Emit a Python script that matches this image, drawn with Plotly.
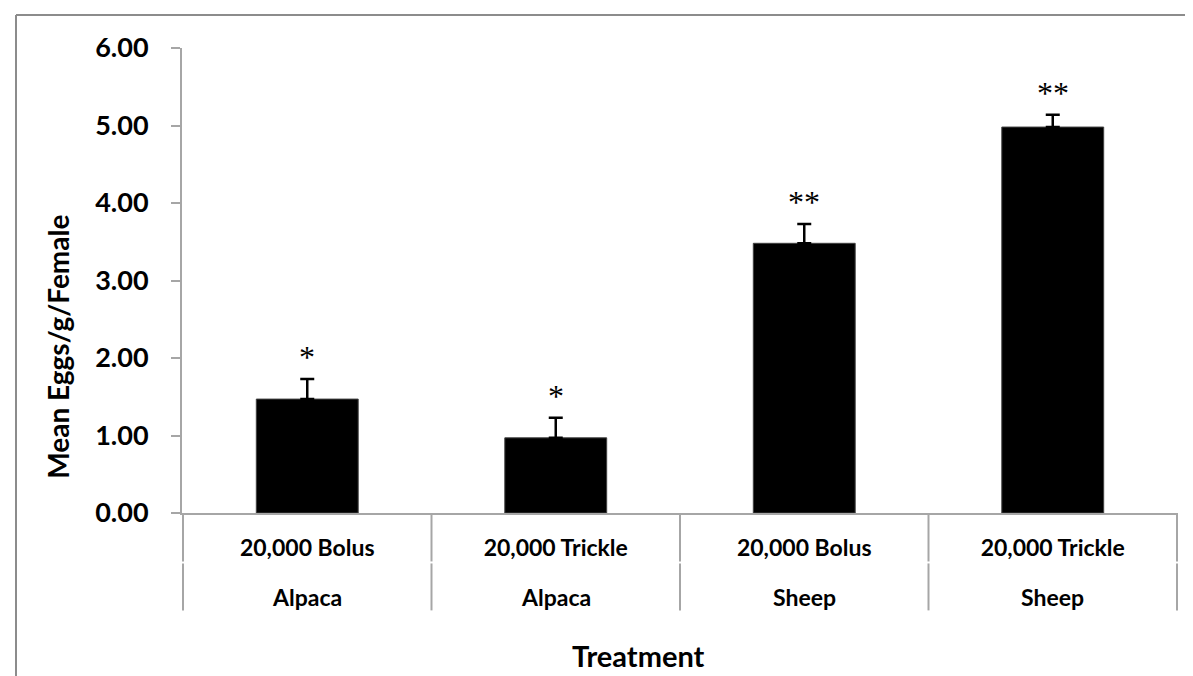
import plotly.graph_objects as go

# data
animals = ["Alpaca", "Alpaca", "Sheep", "Sheep"]
treatments = ["20,000 Bolus", "20,000 Trickle", "20,000 Bolus", "20,000 Trickle"]
mean_eggs = [1.47, 0.97, 3.48, 4.98]
sem_eggs = [0.26, 0.26, 0.25, 0.16]
significance = ["*", "*", "**", "**"]
y_ticks = [0, 1, 2, 3, 4, 5, 6]

# canvas / plot-area geometry in pixels
W, H = 1193, 676
PLOT_L, PLOT_R = 174, 1170
PLOT_T, PLOT_B = 40, 505.5
plot_w = PLOT_R - PLOT_L
plot_h = PLOT_B - PLOT_T

AXIS_GRAY = "#a6a6a6"
FONT = "Lato"

keys = [f"{a} | {t}" for a, t in zip(animals, treatments)]


def px_x(px):
    return (px - PLOT_L) / plot_w


def px_y(py):
    return (PLOT_B - py) / plot_h


fig = go.Figure(go.Bar(
    x=keys,
    y=mean_eggs,
    marker=dict(color="black", line=dict(color="#404040", width=1)),
    error_y=dict(
        type="data",
        symmetric=False,
        array=sem_eggs,
        arrayminus=[0] * len(sem_eggs),
        color="black",
        thickness=2.5,
        width=7,
    ),
    hoverinfo="skip",
))

# significance stars above the error bars
for k, m, s, star in zip(keys, mean_eggs, sem_eggs, significance):
    fig.add_annotation(
        x=k, y=m + s, text=star, showarrow=False,
        yanchor="bottom", yshift=2,
        font=dict(family="Liberation Serif", size=32, color="black"),
    )

# second row of category labels (animal)
for k, a in zip(keys, animals):
    fig.add_annotation(
        x=k, xref="x", y=0, yref="paper", yshift=-84, text=a,
        showarrow=False, yanchor="middle",
        font=dict(family=FONT, size=23, color="black", weight="bold"),
    )

# category dividers below the x axis (two rows, like Excel)
for i in range(len(keys) + 1):
    for top, bot in [(PLOT_B, 554), (556, 603)]:
        fig.add_shape(
            type="line", xref="x", yref="paper",
            x0=i - 0.5, x1=i - 0.5, y0=px_y(top), y1=px_y(bot),
            line=dict(color=AXIS_GRAY, width=2),
        )

# chart area border (only top and left are inside the picture)
fig.add_shape(type="line", xref="paper", yref="paper",
              x0=px_x(8), x1=px_x(W + 5), y0=px_y(7), y1=px_y(7),
              line=dict(color="#8c8c8c", width=2))
fig.add_shape(type="line", xref="paper", yref="paper",
              x0=px_x(8), x1=px_x(8), y0=px_y(7), y1=px_y(H + 5),
              line=dict(color="#8c8c8c", width=2))

# axis titles
fig.add_annotation(
    text="Mean Eggs/g/Female", xref="paper", yref="paper",
    x=px_x(50), y=px_y(339), textangle=-90, showarrow=False,
    xanchor="center", yanchor="middle",
    font=dict(family=FONT, size=28, color="black", weight="bold"),
)
fig.add_annotation(
    text="Treatment", xref="paper", yref="paper",
    x=px_x(630), y=px_y(648), showarrow=False,
    xanchor="center", yanchor="middle",
    font=dict(family=FONT, size=29, color="black", weight="bold"),
)

fig.update_layout(
    width=W, height=H,
    margin=dict(l=PLOT_L, r=W - PLOT_R, t=PLOT_T, b=H - PLOT_B, autoexpand=False),
    paper_bgcolor="white",
    plot_bgcolor="white",
    bargap=0.59,
    showlegend=False,
    font=dict(family=FONT, color="black"),
)

fig.update_xaxes(
    type="category",
    tickvals=keys,
    ticktext=treatments,
    ticks="",
    showline=True, linecolor=AXIS_GRAY, linewidth=2,
    showgrid=False, zeroline=False,
    ticklabelstandoff=13,
    tickfont=dict(family=FONT, size=23, color="black", weight="bold"),
)

fig.update_yaxes(
    range=[0, 6],
    tickvals=y_ticks,
    tickformat=".2f",
    ticks="outside", ticklen=9, tickwidth=2, tickcolor=AXIS_GRAY,
    showline=True, linecolor=AXIS_GRAY, linewidth=2,
    showgrid=False, zeroline=False,
    ticklabelstandoff=17,
    tickfont=dict(family=FONT, size=27, color="black", weight="bold"),
)

fig.write_html("out.html")
